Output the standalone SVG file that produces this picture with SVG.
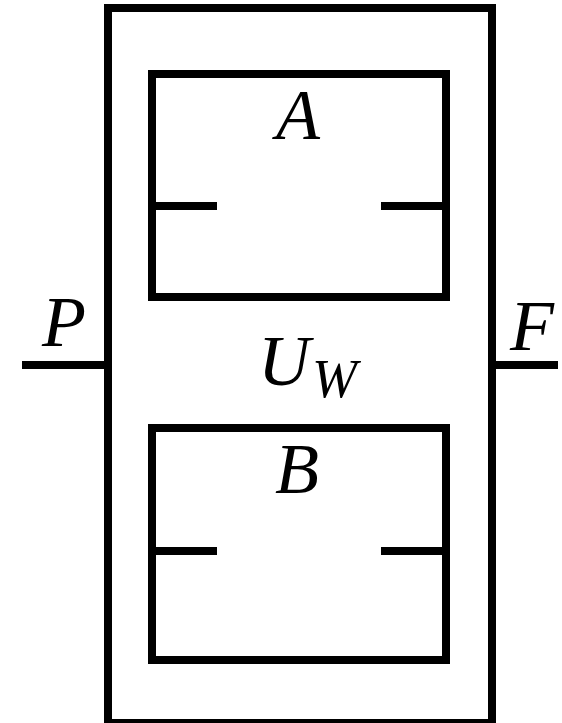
<svg xmlns="http://www.w3.org/2000/svg" width="562" height="723" viewBox="0 0 562 723">
<style>
.box{fill:none;stroke:#000;stroke-width:8}
.ln{stroke:#000;stroke-width:8;fill:none}
text{font-family:"Liberation Serif","DejaVu Serif",serif;font-style:italic;fill:#000}
.lbl{font-size:72px;text-anchor:middle}
</style>
<rect width="562" height="723" fill="#fff"/>
<g id="UW">
<rect class="box" x="108" y="8" width="384" height="715"/>
<text x="258" y="385" style="font-size:72px">U</text>
<text x="312" y="397" style="font-size:54px">W</text>
</g>
<g id="A">
<rect class="box" x="152" y="74" width="294" height="223"/>
<line class="ln" x1="152" y1="206" x2="217" y2="206"/>
<line class="ln" x1="381" y1="206" x2="446" y2="206"/>
<text class="lbl" x="298" y="139">A</text>
</g>
<g id="B">
<rect class="box" x="152" y="428" width="294" height="232"/>
<line class="ln" x1="152" y1="551" x2="217" y2="551"/>
<line class="ln" x1="381" y1="551" x2="446" y2="551"/>
<text class="lbl" x="297" y="493">B</text>
</g>
<g id="connectors">
<line class="ln" x1="22" y1="365" x2="108" y2="365"/>
<line class="ln" x1="492" y1="365" x2="558" y2="365"/>
</g>
<g id="P"><text class="lbl" x="64" y="346">P</text></g>
<g id="F"><text class="lbl" x="532" y="350">F</text></g>
</svg>
